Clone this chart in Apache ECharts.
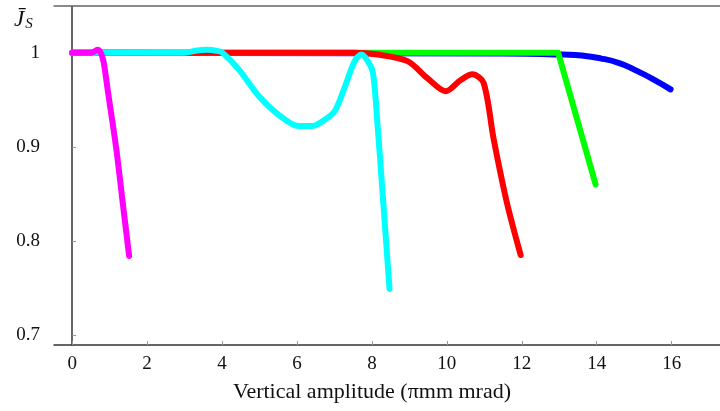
<!DOCTYPE html>
<html>
<head>
<meta charset="utf-8">
<script src="https://cdn.jsdelivr.net/npm/echarts@6/dist/echarts.min.js"></script>
<style>html,body{margin:0;padding:0;background:#fff}#c{width:720px;height:411px}</style>
</head>
<body>
<div id="c"></div>
<script>
// Tick positions
const xTicks = [0, 2, 4, 6, 8, 10, 12, 14, 16];
const yTicks = [0.7, 0.8, 0.9, 1];

// Normalised dynamic aperture curves (x: vertical amplitude, y: J_S)
const blueX = [0, 11.5, 12.5, 13.1, 13.6, 14.1, 14.6, 15.0, 15.5, 15.97];
const blueY = [1, 0.999, 0.9985, 0.998, 0.997, 0.994, 0.989, 0.982, 0.972, 0.961];

const greenX = [0, 12.97, 13.97];
const greenY = [1, 1, 0.86];

const redX = [0, 7.5, 8.16, 8.95, 9.48, 9.97, 10.37, 10.68, 10.98, 11.25, 11.6, 11.97];
const redY = [1, 1, 0.998, 0.991, 0.973, 0.959, 0.971, 0.977, 0.968, 0.908, 0.841, 0.785];

const cyanX = [0, 3.0, 3.3, 3.6, 3.85, 4.01, 4.45, 4.98, 5.51, 6.04, 6.39, 6.75, 7.01, 7.28, 7.54, 7.72, 7.89, 8.03, 8.16, 8.29, 8.47];
const cyanY = [1, 1, 1.002, 1.003, 1.002, 1.0, 0.982, 0.954, 0.934, 0.922, 0.922, 0.929, 0.938, 0.964, 0.991, 0.998, 0.991, 0.978, 0.918, 0.848, 0.749];

const magentaX = [0, 0.5, 0.58, 0.67, 0.76, 0.84, 0.95, 1.18, 1.36, 1.52];
const magentaY = [1, 1, 1.001, 1.003, 1.0, 0.99, 0.96, 0.897, 0.837, 0.784];

const pairs = (xs, ys) => xs.map((x, i) => [x, ys[i]]);
const serif = '"Liberation Serif", "DejaVu Serif", serif';

function line(name, xs, ys, color, smooth) {
  return {
    name, type: 'line', data: pairs(xs, ys), smooth, showSymbol: false, symbol: 'none',
    lineStyle: { color, width: 6, cap: 'round', join: 'round' },
    silent: true, animation: false
  };
}

const chart = echarts.init(document.getElementById('c'));
chart.setOption({
  backgroundColor: '#fff',
  animation: false,
  grid: { left: 54, top: 6, right: -4, bottom: 66, containLabel: false },
  xAxis: [{
    type: 'value', min: -0.485, max: 17.29,
    axisLine: { show: true, lineStyle: { color: '#333', width: 1.5 } },
    axisTick: { show: true, inside: true, length: 4, customValues: xTicks, lineStyle: { color: '#999', width: 1 } },
    axisLabel: { customValues: xTicks, color: '#111', fontFamily: serif, fontSize: 19, margin: 10 },
    splitLine: { show: false }
  }, {
    type: 'value', position: 'top', min: -0.485, max: 17.29,
    axisLine: { show: true, lineStyle: { color: '#666', width: 1.5 } },
    axisTick: { show: false }, axisLabel: { show: false }, splitLine: { show: false }
  }],
  yAxis: {
    type: 'value', min: 0.6894, max: 1.0496,
    axisLine: { show: true, lineStyle: { color: '#333', width: 1.5 } },
    axisTick: { show: true, inside: true, length: 4, customValues: yTicks, lineStyle: { color: '#999', width: 1 } },
    axisLabel: { customValues: yTicks, color: '#111', fontFamily: serif, fontSize: 19, margin: 14 },
    splitLine: { show: false }
  },
  graphic: [
    {
      type: 'text', left: 14, top: 8,
      style: {
        text: '{j|J̄}{s|S}',
        rich: {
          j: { fontFamily: serif, fontStyle: 'italic', fontSize: 23, fill: '#111' },
          s: { fontFamily: serif, fontStyle: 'italic', fontSize: 15, fill: '#111', padding: [10, 0, 0, 1] }
        }
      }
    },
    {
      type: 'text', x: 372, y: 392,
      style: {
        text: 'Vertical amplitude (πmm mrad)',
        fontFamily: serif, fontSize: 22, fill: '#111',
        align: 'center', verticalAlign: 'middle'
      }
    }
  ],
  series: [
    line('blue', blueX, blueY, '#0000ff', true),
    line('green', greenX, greenY, '#00ff00', false),
    line('red', redX, redY, '#ff0000', 0.3),
    line('cyan', cyanX, cyanY, '#00ffff', 0.3),
    line('magenta', magentaX, magentaY, '#ff00ff', 0.3)
  ]
});
</script>
</body>
</html>
